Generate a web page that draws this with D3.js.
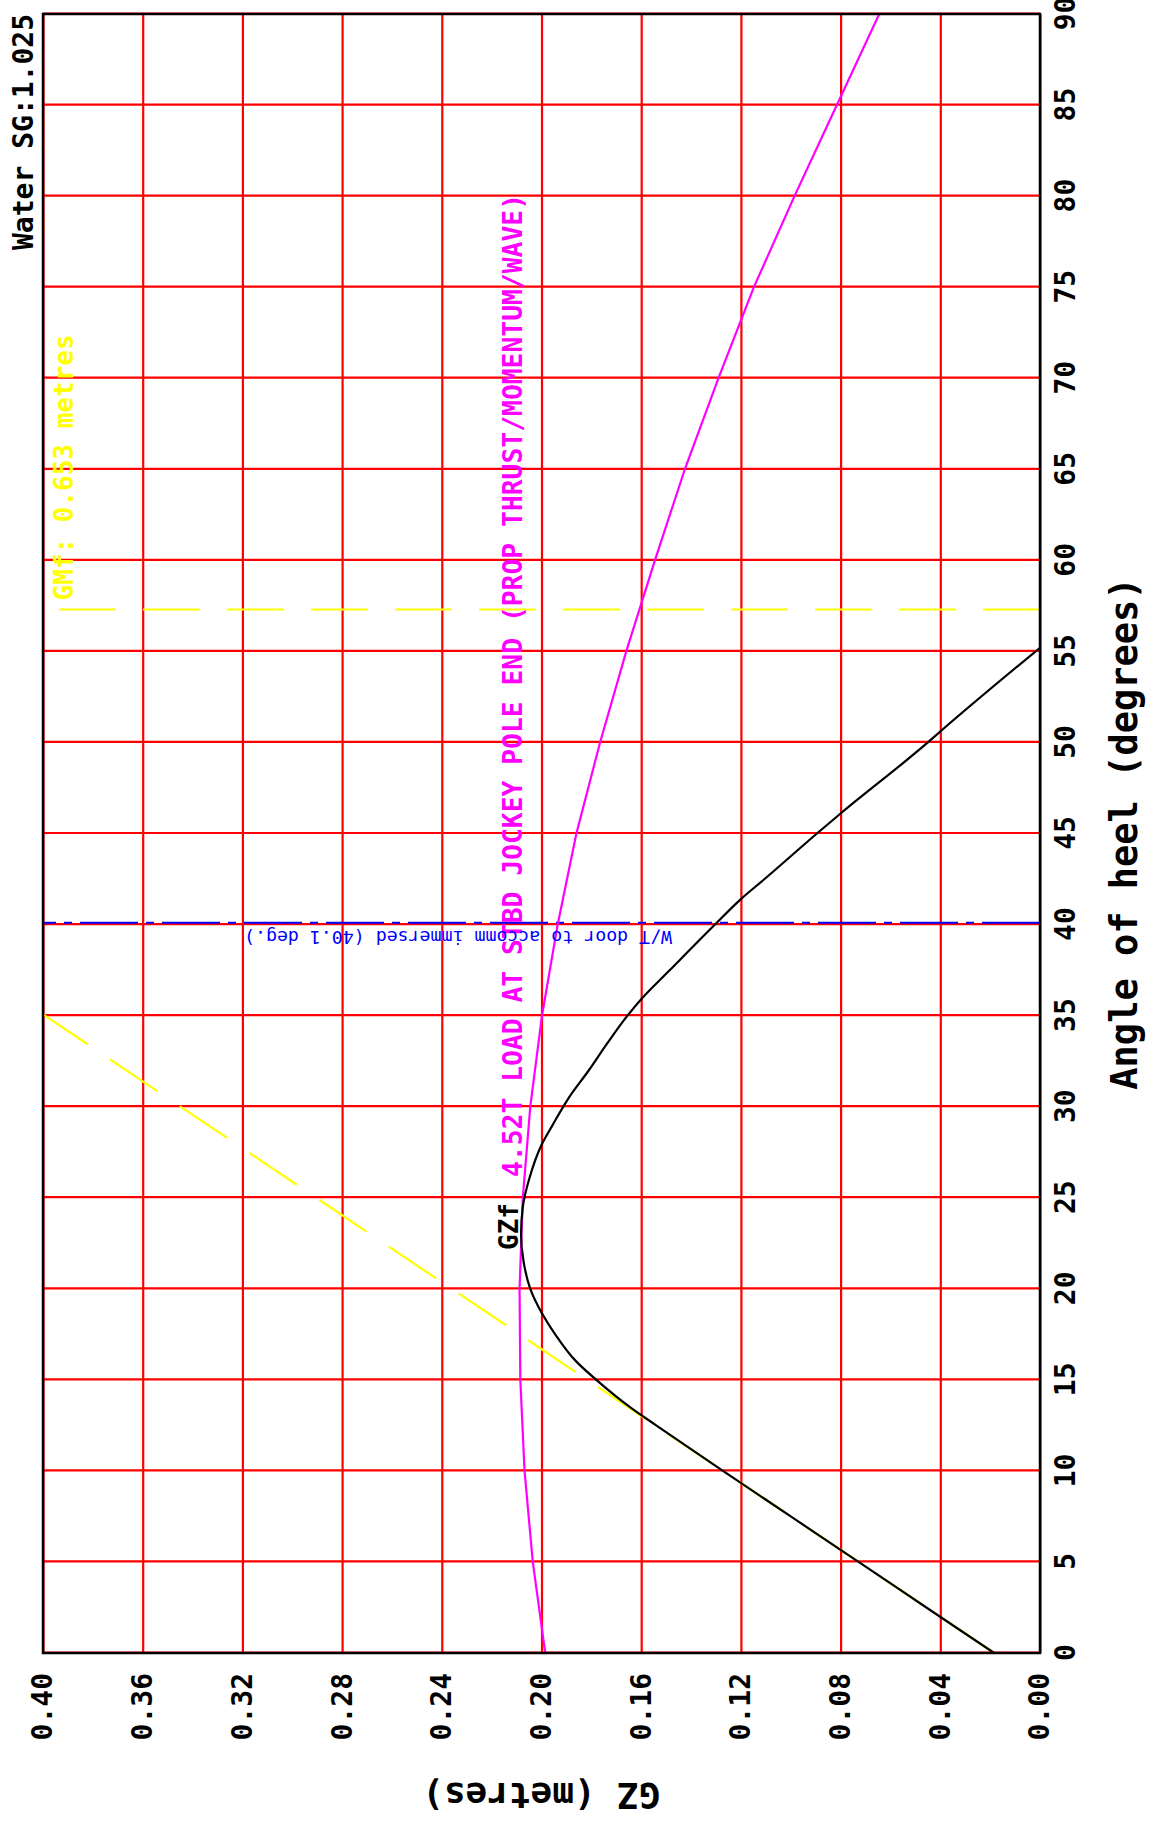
<!DOCTYPE html>
<html>
<head>
<meta charset="utf-8">
<script src="https://cdn.jsdelivr.net/npm/d3@7"></script>
<style>
body { margin: 0; background: #fff; }
</style>
</head>
<body>
<div id="chart"></div>
<script>
// angle of heel ticks (degrees) and GZ ticks (metres)
const angleTicks = [0, 5, 10, 15, 20, 25, 30, 35, 40, 45, 50, 55, 60, 65, 70, 75, 80, 85, 90];
const gzTicks = [0, 0.04, 0.08, 0.12, 0.16, 0.20, 0.24, 0.28, 0.32, 0.36, 0.40];

// GZf righting lever curve [angle, GZ]
const gzCurve = [
  [0, 0.0184], [2.5, 0.0456], [5, 0.0728], [7.5, 0.1000], [10, 0.1272], [12.5, 0.1540],
  [13.5, 0.1645], [15, 0.178], [16, 0.186], [17.5, 0.1945], [18.7, 0.200], [20, 0.2045],
  [21.5, 0.2072], [23, 0.2082], [24.5, 0.2075], [26, 0.2050], [27.9, 0.200], [29, 0.1955],
  [30.5, 0.189], [32, 0.181], [33.5, 0.1735], [35, 0.1655], [35.9, 0.160], [37.5, 0.1485],
  [40, 0.1304], [41.4, 0.120], [42.5, 0.1105], [45, 0.0895], [46.1, 0.080], [50, 0.045],
  [50.6, 0.040], [55.2, 0.0]
];

// heeling arm: 4.52T load at stbd jockey pole end [angle, GZ]
const heelArm = [
  [0, 0.1985], [5, 0.2035], [10, 0.2068], [15, 0.2085], [20, 0.2088], [25, 0.2075],
  [30, 0.2045], [35, 0.1998], [40, 0.1935], [45, 0.1860], [50, 0.1765], [55, 0.1660],
  [60, 0.1545], [65, 0.1425], [70, 0.1290], [75, 0.1148], [80, 0.0985], [85, 0.0815],
  [90, 0.0645]
];

// initial GM line and 1 radian marker
const gmfLine = [[0, 0.0184], [35.07, 0.40]];
const gmfAngle = 57.3;
const gmfValue = 0.653;
const doorAngle = 40.1;

const heelLabel = "4.52T LOAD AT STBD JOCKEY POLE END (PROP THRUST/MOMENTUM/WAVE)";
const doorLabel = "W/T door to accomm immersed (" + doorAngle + " deg.)";

// chart is drawn landscape and then turned a quarter anticlockwise
const W = 1823, H = 1163;
const margin = { top: 43, right: 14, bottom: 123, left: 170 };
const font = "'DejaVu Sans Mono', monospace";

const svg = d3.select("#chart")
  .append("svg")
  .attr("width", H)
  .attr("height", W);

const g = svg.append("g")
  .attr("transform", `translate(0,${W}) rotate(-90)`);

const x = d3.scaleLinear().domain([0, 90]).range([margin.left, W - margin.right]);
const y = d3.scaleLinear().domain([0, 0.4]).range([H - margin.bottom, margin.top]);
const plotW = x(90) - x(0), plotH = y(0) - y(0.4);

g.append("rect")
  .attr("x", 0).attr("y", 0).attr("width", W).attr("height", H)
  .attr("fill", "#fff");

// red grid
const gridX = g.append("g")
  .attr("transform", `translate(0,${y(0)})`)
  .call(d3.axisBottom(x).tickValues(angleTicks).tickSize(-plotH).tickFormat(""));
const gridY = g.append("g")
  .attr("transform", `translate(${x(0)},0)`)
  .call(d3.axisLeft(y).tickValues(gzTicks).tickSize(-plotW).tickFormat(""));
[gridX, gridY].forEach(a => {
  a.select(".domain").remove();
  a.selectAll("line").attr("stroke", "#ff0000").attr("stroke-width", 2.2);
});

// tick labels
const axX = g.append("g")
  .attr("transform", `translate(0,${y(0)})`)
  .call(d3.axisBottom(x).tickValues(angleTicks).tickSize(0).tickPadding(15).tickFormat(d3.format("d")));
const axY = g.append("g")
  .attr("transform", `translate(${x(0)},0)`)
  .call(d3.axisLeft(y).tickValues(gzTicks).tickSize(0).tickPadding(20).tickFormat(d3.format(".2f")));
[axX, axY].forEach(a => {
  a.select(".domain").remove();
  a.attr("font-family", font).attr("font-size", 28).attr("font-weight", "bold");
  a.selectAll("text").attr("fill", "#000");
});

// axis titles
g.append("text")
  .attr("x", (x(0) + x(90)) / 2)
  .attr("y", 1137)
  .attr("text-anchor", "middle")
  .attr("font-family", font).attr("font-size", 37).attr("font-weight", "bold")
  .text("Angle of heel (degrees)");

g.append("text")
  .attr("transform", `translate(40,${(y(0) + y(0.4)) / 2}) rotate(-90)`)
  .attr("text-anchor", "middle")
  .attr("font-family", font).attr("font-size", 36).attr("font-weight", "bold")
  .text("GZ (metres)");

g.append("text")
  .attr("x", x(90))
  .attr("y", 33)
  .attr("text-anchor", "end")
  .attr("font-family", font).attr("font-size", 28).attr("font-weight", "bold")
  .text("Water SG:1.025");

// curves
svg.append("defs").append("clipPath").attr("id", "plot")
  .append("rect").attr("x", x(0)).attr("y", y(0.4)).attr("width", plotW).attr("height", plotH);

const plot = g.append("g").attr("clip-path", "url(#plot)");
const line = d3.line().x(d => x(d[0])).y(d => y(d[1]));

// GMf tangent and 1 radian marker
plot.append("path")
  .datum(gmfLine)
  .attr("d", line)
  .attr("fill", "none").attr("stroke", "#ffff00").attr("stroke-width", 2.2)
  .attr("stroke-dasharray", "57,27");
plot.append("path")
  .datum([[gmfAngle, 0], [gmfAngle, 0.4]])
  .attr("d", line)
  .attr("fill", "none").attr("stroke", "#ffff00").attr("stroke-width", 2.2)
  .attr("stroke-dasharray", "57,27");

// W/T door immersion
plot.append("path")
  .datum([[doorAngle, 0], [doorAngle, 0.4]])
  .attr("d", line)
  .attr("fill", "none").attr("stroke", "#0000ff").attr("stroke-width", 2.2)
  .attr("stroke-dasharray", "58,8,8,8");

plot.append("path")
  .datum(heelArm)
  .attr("d", line)
  .attr("fill", "none").attr("stroke", "#ff00ff").attr("stroke-width", 2.2);

plot.append("path")
  .datum(gzCurve)
  .attr("d", line.curve(d3.curveMonotoneX))
  .attr("fill", "none").attr("stroke", "#000").attr("stroke-width", 2.2);

// labels in plot
g.append("text")
  .attr("x", x(gmfAngle) + 9)
  .attr("y", 73)
  .attr("font-family", font).attr("font-size", 26).attr("font-weight", "bold")
  .attr("fill", "#ffff00")
  .text("GMf: " + gmfValue + " metres");

g.append("text")
  .attr("x", 646)
  .attr("y", 522)
  .attr("font-family", font).attr("font-size", 26).attr("font-weight", "bold")
  .attr("fill", "#ff00ff")
  .attr("textLength", 983).attr("lengthAdjust", "spacingAndGlyphs")
  .text(heelLabel);

g.append("text")
  .attr("x", 573)
  .attr("y", 518)
  .attr("font-family", font).attr("font-size", 26).attr("font-weight", "bold")
  .attr("fill", "#000")
  .text("GZf");

g.append("text")
  .attr("transform", `translate(${x(doorAngle) - 8},672) rotate(-90)`)
  .attr("font-family", font).attr("font-size", 18)
  .attr("fill", "#0000ff")
  .attr("textLength", 428).attr("lengthAdjust", "spacingAndGlyphs")
  .text(doorLabel);

// plot frame
g.append("rect")
  .attr("x", x(0)).attr("y", y(0.4))
  .attr("width", plotW).attr("height", plotH)
  .attr("fill", "none").attr("stroke", "#000").attr("stroke-width", 2.5);
</script>
</body>
</html>
